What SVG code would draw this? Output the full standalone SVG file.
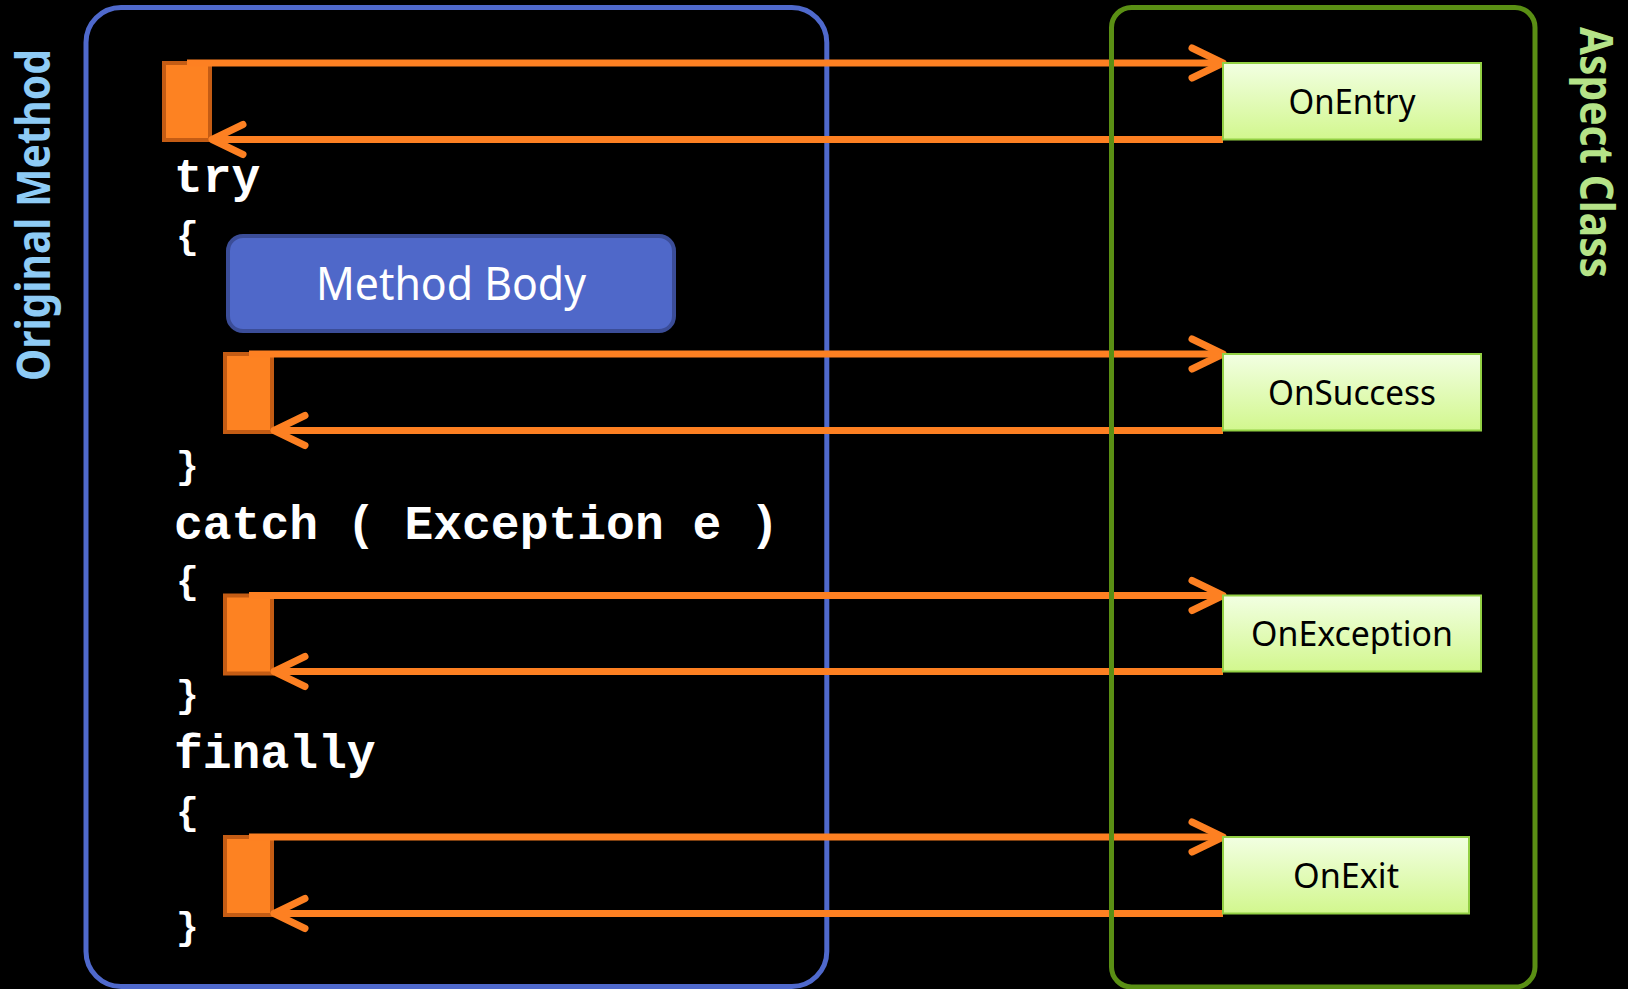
<svg xmlns="http://www.w3.org/2000/svg" width="1628" height="989" viewBox="0 0 1628 989">
<defs>
<linearGradient id="ng" x1="0" y1="0" x2="0" y2="1">
<stop offset="0" stop-color="#f2ffe2"/>
<stop offset="1" stop-color="#d2f78e"/>
</linearGradient>
</defs>
<style>
.frameB{fill:none;stroke:#4f69cc;stroke-width:5}
.frameG{fill:none;stroke:#5a8f14;stroke-width:5}
.side{font-family:"Noto Sans","Open Sans",sans-serif;font-weight:bold;font-size:47px}
.code{font-family:"Liberation Mono",monospace;font-weight:bold;font-size:48px;fill:#ffffff}
.brace{font-family:"Liberation Mono",monospace;font-weight:bold;font-size:38px;fill:#ffffff}
.hook{fill:#fd8222;stroke:#c45c14;stroke-width:4}
.node{fill:url(#ng);stroke:#93d044;stroke-width:2}
.lbl{font-family:"Noto Sans","Open Sans",sans-serif;font-size:34px;fill:#000000;text-anchor:middle}
.ln{fill:none;stroke:#fd8022;stroke-width:7}
.ah{fill:none;stroke:#fd8022;stroke-width:7;stroke-linecap:round;stroke-linejoin:round}
</style>
<rect width="1628" height="989" fill="#000000"/>

<g id="original-method">
<rect class="frameB" x="86" y="7.5" width="740.8" height="979" rx="35"/>
<text class="side" fill="#8ecbf5" transform="translate(50,381) rotate(-90)" textLength="332" lengthAdjust="spacingAndGlyphs">Original Method</text>
</g>

<g id="code">
<text class="code" x="174" y="192">try</text>
<text class="brace" x="176" y="248">{</text>
<text class="brace" x="176" y="478">}</text>
<text class="code" x="174" y="539">catch ( Exception e )</text>
<text class="brace" x="176" y="593">{</text>
<text class="brace" x="176" y="707">}</text>
<text class="code" x="174" y="768">finally</text>
<text class="brace" x="176" y="824">{</text>
<text class="brace" x="176" y="939">}</text>
</g>

<g id="method-body">
<rect x="228" y="236" width="446" height="95" rx="15" fill="#4f68c9" stroke="#3b4d98" stroke-width="4"/>
<text x="451" y="300" font-family="Noto Sans, Open Sans, sans-serif" font-size="45" fill="#ffffff" text-anchor="middle" textLength="270" lengthAdjust="spacingAndGlyphs">Method Body</text>
</g>

<g id="hook-entry"><rect class="hook" x="164" y="63" width="46" height="77"/></g>
<g id="hook-success"><rect class="hook" x="225" y="354" width="47" height="78"/></g>
<g id="hook-exception"><rect class="hook" x="225" y="595.5" width="47" height="78"/></g>
<g id="hook-exit"><rect class="hook" x="225" y="837" width="47" height="78"/></g>

<g id="connectors">
<line class="ln" x1="187" y1="63" x2="1220" y2="63"/>
<polyline class="ah" points="1192,48 1223,63 1192,78"/>
<line class="ln" x1="1223" y1="139.5" x2="215" y2="139.5"/>
<polyline class="ah" points="243,124.5 212,139.5 243,154.5"/>

<line class="ln" x1="249" y1="354" x2="1220" y2="354"/>
<polyline class="ah" points="1192,339 1223,354 1192,369"/>
<line class="ln" x1="1223" y1="430.5" x2="277" y2="430.5"/>
<polyline class="ah" points="305,415.5 274,430.5 305,445.5"/>

<line class="ln" x1="249" y1="595.5" x2="1220" y2="595.5"/>
<polyline class="ah" points="1192,580.5 1223,595.5 1192,610.5"/>
<line class="ln" x1="1223" y1="671.5" x2="277" y2="671.5"/>
<polyline class="ah" points="305,656.5 274,671.5 305,686.5"/>

<line class="ln" x1="249" y1="837" x2="1220" y2="837"/>
<polyline class="ah" points="1192,822 1223,837 1192,852"/>
<line class="ln" x1="1223" y1="913.5" x2="277" y2="913.5"/>
<polyline class="ah" points="305,898.5 274,913.5 305,928.5"/>
</g>

<g id="aspect-class">
<rect class="frameG" x="1111.5" y="7.5" width="423.5" height="979.5" rx="20"/>
<text class="side" fill="#b5e388" transform="translate(1580,27) rotate(90)" textLength="251" lengthAdjust="spacingAndGlyphs">Aspect Class</text>
</g>

<g id="on-entry">
<rect class="node" x="1223" y="63" width="258" height="76.5"/>
<text class="lbl" x="1352" y="114" textLength="127" lengthAdjust="spacingAndGlyphs">OnEntry</text>
</g>
<g id="on-success">
<rect class="node" x="1223" y="354" width="258" height="76.5"/>
<text class="lbl" x="1352" y="405" textLength="168" lengthAdjust="spacingAndGlyphs">OnSuccess</text>
</g>
<g id="on-exception">
<rect class="node" x="1223" y="595.5" width="258" height="76"/>
<text class="lbl" x="1352" y="646" textLength="202" lengthAdjust="spacingAndGlyphs">OnException</text>
</g>
<g id="on-exit">
<rect class="node" x="1223" y="837" width="246" height="76.5"/>
<text class="lbl" x="1346" y="888" textLength="106" lengthAdjust="spacingAndGlyphs">OnExit</text>
</g>
</svg>
